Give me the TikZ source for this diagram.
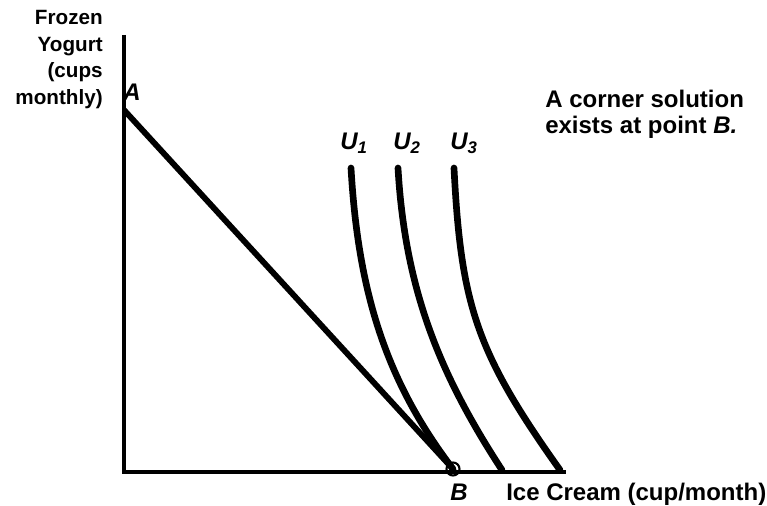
\documentclass[tikz,border=0pt]{standalone}
\usepackage{fontspec}
\setmainfont{Liberation Sans}
\usetikzlibrary{positioning,calc}

\begin{document}
\begin{tikzpicture}[
  x=0.75pt,y=-0.75pt,
  font=\bfseries,
  ax/.style={line width=3pt},
  budget/.style={line width=4.4pt},
  indiff/.style={line width=5pt,line cap=round},
  lbl/.style={inner sep=0pt,font=\fontsize{18}{19.5}\selectfont\bfseries},
  ptlbl/.style={lbl,font=\fontsize{18}{19.5}\selectfont\bfseries\itshape}]

\useasboundingbox (0,0) rectangle (767,506);

\coordinate (O)    at (124,472);
\coordinate (ytop) at (124,35);
\coordinate (xend) at (566,472);
\coordinate (A)    at (124,110);
\coordinate (B)    at (453,469);

% axes
\draw[ax] (ytop) -- (O) -- (xend);

% budget line
\draw[budget] (A) -- (B);
\draw[line width=1.6pt] (B) circle (6.5);

% indifference curves
\draw[indiff] (351,168) .. controls (358,290) and (385,380) .. (B);
\draw[indiff] (398,168) .. controls (405,290) and (440,375) .. (502,470);
\draw[indiff] (454,168) .. controls (461,305) and (476,352) .. (560,470);

\node[ptlbl] (uone)   at (354,143) {U\textsubscript{1}};
\node[ptlbl] (utwo)   at (407,143) {U\textsubscript{2}};
\node[ptlbl] (uthree) at (464,143) {U\textsubscript{3}};

\node[ptlbl] (Alab) at (132,92) {A};
\node[ptlbl,anchor=base] (Blab) at (459,500) {B};

\node[lbl,anchor=base west] (xlab) at (506,500) {Ice Cream (cup/month)};
\node[inner sep=0pt,anchor=north east,align=right,
      font=\fontsize{15.5}{20}\selectfont\bfseries] (ylab) at (103,10)
  {Frozen\\Yogurt\\(cups\\monthly)};

\node[lbl,anchor=base west,align=left] (note) at (545,134)
  {A corner solution\\exists at point \textit{B.}};
\end{tikzpicture}
\end{document}
